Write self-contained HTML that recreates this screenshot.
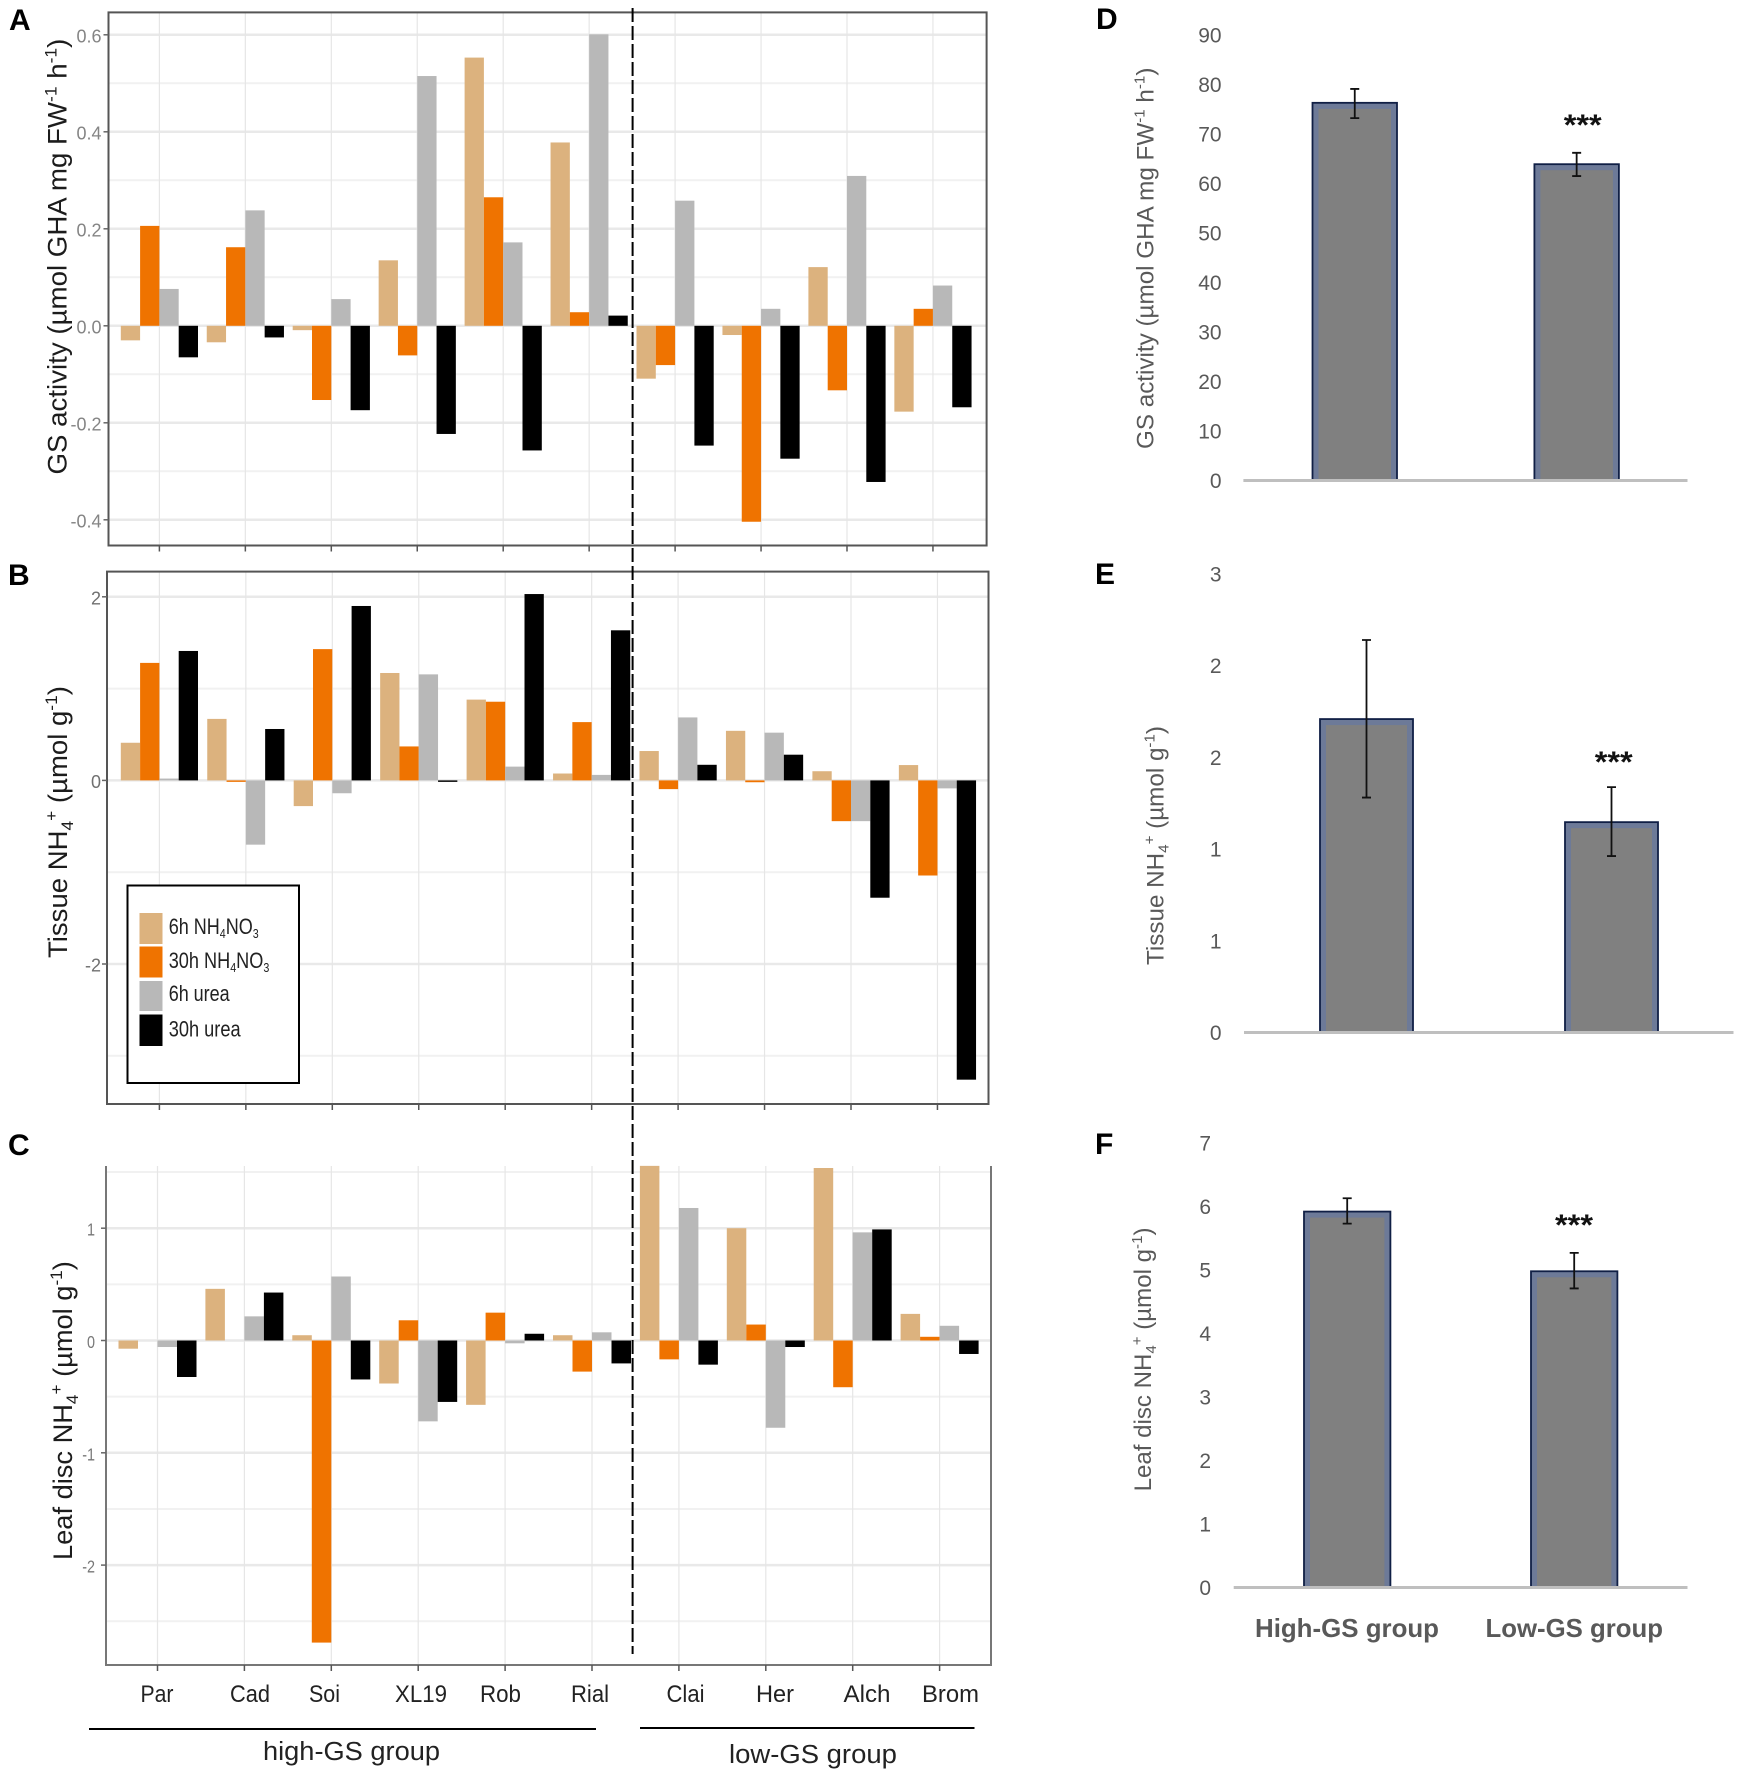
<!DOCTYPE html>
<html lang="en">
<head>
<meta charset="utf-8">
<title>GS activity and NH4+ panels</title>
<style>
html,body{margin:0;padding:0;background:#fff}
svg{display:block}
text{font-family:"Liberation Sans",sans-serif}
</style>
</head>
<body>
<svg id="figure" xmlns="http://www.w3.org/2000/svg" width="1737" height="1772" viewBox="0 0 1737 1772">
  <rect width="1737" height="1772" fill="#fff"/>
  <g id="pA"></g>
  <g id="pB"></g>
  <g id="pC"></g>
  <g id="pD"></g>
  <g id="pE"></g>
  <g id="pF"></g>

  <g font-weight="bold" font-size="30" fill="#000">
    <text x="9" y="30">A</text>
    <text x="8" y="585">B</text>
    <text x="8" y="1155">C</text>
    <text x="1096" y="29">D</text>
    <text x="1095" y="584">E</text>
    <text x="1095" y="1154">F</text>
  </g>

  <g font-size="27" fill="#1c1c1c">
    <text data-w="436" transform="translate(66.5,474.5) rotate(-90)">GS activity (µmol GHA mg FW<tspan font-size="17" dy="-10">-1</tspan><tspan dy="10"> h</tspan><tspan font-size="17" dy="-10">-1</tspan><tspan dy="10">)</tspan></text>
    <text data-w="272" transform="translate(67,958) rotate(-90)">Tissue NH<tspan font-size="17" dy="6">4</tspan><tspan font-size="17" dy="-16">+</tspan><tspan dy="10"> (µmol g</tspan><tspan font-size="17" dy="-10">-1</tspan><tspan dy="10">)</tspan></text>
    <text data-w="299" transform="translate(72,1560) rotate(-90)">Leaf disc NH<tspan font-size="17" dy="6">4</tspan><tspan font-size="17" dy="-16">+</tspan><tspan dy="10"> (µmol g</tspan><tspan font-size="17" dy="-10">-1</tspan><tspan dy="10">)</tspan></text>
  </g>
  <g font-size="24" fill="#595959">
    <text data-w="381.5" transform="translate(1153.5,449) rotate(-90)">GS activity (µmol GHA mg FW<tspan font-size="15" dy="-9">-1</tspan><tspan dy="9"> h</tspan><tspan font-size="15" dy="-9">-1</tspan><tspan dy="9">)</tspan></text>
    <text data-w="239" transform="translate(1163.5,965) rotate(-90)">Tissue NH<tspan font-size="15" dy="5">4</tspan><tspan font-size="15" dy="-14">+</tspan><tspan dy="9"> (µmol g</tspan><tspan font-size="15" dy="-9">-1</tspan><tspan dy="9">)</tspan></text>
    <text data-w="264" transform="translate(1151,1491.4) rotate(-90)">Leaf disc NH<tspan font-size="15" dy="5">4</tspan><tspan font-size="15" dy="-14">+</tspan><tspan dy="9"> (µmol g</tspan><tspan font-size="15" dy="-9">-1</tspan><tspan dy="9">)</tspan></text>
  </g>

  <g>
    <rect x="127.5" y="885.5" width="171.5" height="197.5" fill="#fff" stroke="#000" stroke-width="2"/>
    <rect x="139.5" y="913" width="23" height="31" fill="#dcb27e"/>
    <rect x="139.5" y="946.5" width="23" height="31" fill="#ef7300"/>
    <rect x="139.5" y="981" width="23" height="30" fill="#b8b8b8"/>
    <rect x="139.5" y="1014.5" width="23" height="31.5" fill="#000"/>
    <g font-size="22" fill="#222">
      <text data-w="90" transform="translate(168.7,934)">6h NH<tspan font-size="13" dy="4">4</tspan><tspan dy="-4">NO</tspan><tspan font-size="13" dy="4">3</tspan></text>
      <text data-w="100.7" transform="translate(168.7,968)">30h NH<tspan font-size="13" dy="4">4</tspan><tspan dy="-4">NO</tspan><tspan font-size="13" dy="4">3</tspan></text>
      <text data-w="61" transform="translate(168.7,1001)">6h urea</text>
      <text data-w="72" transform="translate(168.7,1036.5)">30h urea</text>
    </g>
  </g>

  <g font-size="24" fill="#222">
    <text data-w="33" transform="translate(140.5,1702)">Par</text>
    <text data-w="40" transform="translate(230,1702)">Cad</text>
    <text data-w="31" transform="translate(309,1702)">Soi</text>
    <text data-w="52" transform="translate(395,1702)">XL19</text>
    <text data-w="41" transform="translate(480,1702)">Rob</text>
    <text data-w="38" transform="translate(571,1702)">Rial</text>
    <text data-w="38" transform="translate(666.5,1702)">Clai</text>
    <text data-w="38" transform="translate(756,1702)">Her</text>
    <text data-w="47" transform="translate(843.5,1702)">Alch</text>
    <text data-w="57" transform="translate(922,1702)">Brom</text>
  </g>

  <g>
    <line x1="89" y1="1729" x2="596" y2="1729" stroke="#000" stroke-width="2"/>
    <line x1="640" y1="1728" x2="974.5" y2="1728" stroke="#000" stroke-width="2"/>
    <text font-size="26" fill="#222" data-w="177" transform="translate(263,1760)">high-GS group</text>
    <text font-size="26" fill="#222" data-w="168" transform="translate(729,1763)">low-GS group</text>
  </g>

  <g font-size="26" font-weight="bold" fill="#595959">
    <text data-w="184" transform="translate(1255,1636.8)">High-GS group</text>
    <text data-w="177.6" transform="translate(1485.5,1636.8)">Low-GS group</text>
  </g>

  <g font-size="30" font-weight="bold" fill="#111">
    <text data-w="38" transform="translate(1563.7,135)">***</text>
    <text data-w="38" transform="translate(1594.7,772)">***</text>
    <text data-w="38" transform="translate(1555,1235)">***</text>
  </g>

  <line x1="632.6" y1="8" x2="632.6" y2="1654" stroke="#000" stroke-width="2" stroke-dasharray="14 4"/>
</svg>

<script>
// Shared categories and series
const categories = ["Par","Cad","Soi","XL19","Rob","Rial","Clai","Her","Alch","Brom"];
const seriesNames = ["6h-nh4no3","30h-nh4no3","6h-urea","30h-urea"];
const seriesColors = ["#dcb27e","#ef7300","#b8b8b8","#000000"];

// Panel A: GS activity
const a6hNH4NO3  = [-0.03,-0.034,-0.009,0.135,0.553,0.378,-0.109,-0.019,0.121,-0.177];
const a30hNH4NO3 = [0.206,0.162,-0.153,-0.061,0.265,0.028,-0.081,-0.404,-0.133,0.035];
const a6hUrea    = [0.076,0.238,0.055,0.515,0.172,0.601,0.258,0.035,0.309,0.083];
const a30hUrea   = [-0.065,-0.024,-0.174,-0.223,-0.257,0.021,-0.247,-0.274,-0.322,-0.168];
const aTicks      = [0.6,0.4,0.2,0,-0.2,-0.4];
const aTickLabels = ["0.6","0.4","0.2","0.0","-0.2","-0.4"];
const aMinorTicks = [0.5,0.3,0.1,-0.1,-0.3];

// Panel B: Tissue NH4+
const b6hNH4NO3  = [0.41,0.67,-0.28,1.17,0.88,0.075,0.32,0.54,0.10,0.167];
const b30hNH4NO3 = [1.28,-0.016,1.43,0.37,0.857,0.635,-0.095,-0.02,-0.444,-1.036];
const b6hUrea    = [0.02,-0.70,-0.14,1.155,0.15,0.06,0.686,0.52,-0.444,-0.087];
const b30hUrea   = [1.41,0.56,1.90,-0.016,2.03,1.635,0.17,0.28,-1.278,-3.26];
const bTicks      = [2,0,-2];
const bTickLabels = ["2","0","-2"];
const bMinorTicks = [1,-1,-3];

// Panel C: Leaf disc NH4+
const c6hNH4NO3  = [-0.073,0.46,0.047,-0.383,-0.573,0.047,1.555,1.0,1.536,0.237];
const c30hNH4NO3 = [0,0,-2.69,0.18,0.248,-0.277,-0.168,0.142,-0.416,0.033];
const c6hUrea    = [-0.058,0.215,0.57,-0.72,-0.025,0.073,1.18,-0.777,0.963,0.131];
const c30hUrea   = [-0.325,0.427,-0.347,-0.547,0.06,-0.204,-0.215,-0.058,0.989,-0.12];
const cTicks      = [1,0,-1,-2];
const cTickLabels = ["1","0","-1","-2"];
const cMinorTicks = [1.5,0.5,-0.5,-1.5,-2.5];

// Panels D-F: group means with error bar limits
const summaryGroups = ["high-gs","low-gs"];
const dMeans = [76.3,63.9];
const dUpper = [79.1,66.2];
const dLower = [73.2,61.5];
const dTicks = [0,10,20,30,40,50,60,70,80,90];
const dTickLabels = ["0","10","20","30","40","50","60","70","80","90"];

const eMeans = [1.709,1.147];
const eUpper = [2.14,1.338];
const eLower = [1.281,0.962];
const eTicks = [0,0.5,1,1.5,2,2.5];
const eTickLabels = ["0","1","1","2","2","3"];

const fMeans = [5.92,4.98];
const fUpper = [6.13,5.27];
const fLower = [5.73,4.71];
const fTicks = [0,1,2,3,4,5,6,7];
const fTickLabels = ["0","1","2","3","4","5","6","7"];

const NS = "http://www.w3.org/2000/svg";
function mk(parent, tag, attrs) {
  const el = document.createElementNS(NS, tag);
  for (const k in attrs) el.setAttribute(k, attrs[k]);
  parent.appendChild(el);
  return el;
}
function linearY(zero, pxPerUnit) { return v => zero - v * pxPerUnit; }
function bandX(first, step) { return i => first + i * step; }

function drawGroupedPanel(id, cfg, series, ticks, tickLabels, minorTicks) {
  const g = document.getElementById(id);
  const y = linearY(cfg.zero, cfg.scale);
  const x = bandX(cfg.firstX, cfg.stepX);
  minorTicks.forEach(t => {
    const l = mk(g, "line", {x1: cfg.left, x2: cfg.right, y1: y(t), y2: y(t), stroke: "#f1f1f1", "stroke-width": 2});
    
    
  });
  ticks.forEach(t => {
    const l = mk(g, "line", {x1: cfg.left, x2: cfg.right, y1: y(t), y2: y(t), stroke: "#e9e9e9", "stroke-width": 2.5});
    
    
  });
  categories.forEach((c, i) => {
    const l = mk(g, "line", {x1: x(i), x2: x(i), y1: cfg.top, y2: cfg.bottom, stroke: "#e6e6e6", "stroke-width": 1.2});
    
    
  });
  series.forEach((vals, s) => {
    vals.forEach((v, i) => {
      const y0 = y(0), yv = y(v);
      const r = mk(g, "rect", {
        x: x(i) + (s - 2) * cfg.barW,
        y: Math.min(y0, yv),
        width: cfg.barW,
        height: Math.abs(yv - y0),
        fill: seriesColors[s]
      });
      
      
    });
  });
  if (cfg.frame) {
    const f = mk(g, "rect", {x: cfg.left, y: cfg.top, width: cfg.right - cfg.left, height: cfg.bottom - cfg.top, fill: "none", stroke: "#555", "stroke-width": 2});
    
    
  } else {
    const ax = mk(g, "path", {d: "M" + cfg.left + " " + cfg.top + "V" + cfg.bottom + "H" + cfg.right + "V" + cfg.top, fill: "none", stroke: "#777", "stroke-width": 2});
    
    
  }
  categories.forEach((c, i) => {
    const t = mk(g, "line", {x1: x(i), x2: x(i), y1: cfg.bottom, y2: cfg.bottom + 6, stroke: "#555", "stroke-width": 1.5});
    
    
  });
  ticks.forEach((t, i) => {
    const m = mk(g, "line", {x1: cfg.left - 5, x2: cfg.left, y1: y(t), y2: y(t), stroke: "#666", "stroke-width": 1.5});
    
    
    const lab = mk(g, "text", {
      "text-anchor": "end",
      "font-size": cfg.tickSize,
      fill: cfg.tickColor,
      transform: "translate(" + cfg.tickX + "," + (y(t) + cfg.tickSize * 0.36 + 1) + ") scale(" + cfg.tickSx + ",1)"
    });
    lab.textContent = tickLabels[i];
    
    
  });
}

function drawSummaryPanel(id, cfg, means, upper, lower, ticks, tickLabels) {
  const g = document.getElementById(id);
  const y = linearY(cfg.zero, cfg.scale);
  const x = bandX(cfg.firstX, cfg.stepX);
  means.forEach((m, i) => {
    const o = mk(g, "rect", {x: x(i) - cfg.barW / 2, y: y(m), width: cfg.barW, height: y(0) - y(m), fill: "#6d7a98", stroke: "#101f45", "stroke-width": 1.8});
    
    
    const n = mk(g, "rect", {x: x(i) - cfg.barW / 2 + 6, y: y(m) + 6, width: cfg.barW - 12, height: y(0) - y(m) - 7, fill: "#808080"});
    
    
    const e = mk(g, "path", {
      d: "M" + (x(i) - 4.5) + " " + y(upper[i]) + "h9M" + x(i) + " " + y(upper[i]) + "V" + y(lower[i]) + "M" + (x(i) - 4.5) + " " + y(lower[i]) + "h9",
      fill: "none", stroke: "#111", "stroke-width": 1.8
    });
    
    
  });
  const base = mk(g, "line", {x1: cfg.axisLeft, x2: cfg.axisRight, y1: y(0), y2: y(0), stroke: "#bfbfbf", "stroke-width": 3});
  
  
  ticks.forEach((t, i) => {
    const lab = mk(g, "text", {x: cfg.tickX, y: y(t) + 7.5, "text-anchor": "end", "font-size": 21, fill: "#595959"});
    lab.textContent = tickLabels[i];
    
    
  });
}

drawGroupedPanel("pA",
  {left:108.5,right:986.6,top:12.4,bottom:545.5,zero:325.8,scale:485,firstX:159.4,stepX:85.95,barW:19.3,frame:true,tickX:101.5,tickSize:18,tickSx:1,tickColor:"#858585"},
  [a6hNH4NO3,a30hNH4NO3,a6hUrea,a30hUrea], aTicks, aTickLabels, aMinorTicks);
drawGroupedPanel("pB",
  {left:107,right:988.5,top:571.6,bottom:1104,zero:780.4,scale:91.8,firstX:159.4,stepX:86.45,barW:19.3,frame:true,tickX:101,tickSize:18,tickSx:1,tickColor:"#707070"},
  [b6hNH4NO3,b30hNH4NO3,b6hUrea,b30hUrea], bTicks, bTickLabels, bMinorTicks);
drawGroupedPanel("pC",
  {left:106,right:991,top:1166,bottom:1665,zero:1340.5,scale:112.3,firstX:157.5,stepX:86.9,barW:19.5,frame:false,tickX:95,tickSize:18,tickSx:0.8,tickColor:"#777"},
  [c6hNH4NO3,c30hNH4NO3,c6hUrea,c30hUrea], cTicks, cTickLabels, cMinorTicks);

drawSummaryPanel("pD",
  {zero:480.5,scale:4.95,firstX:1354.75,stepX:221.9,barW:84.5,axisLeft:1243.4,axisRight:1687.5,tickX:1221.6},
  dMeans,dUpper,dLower,dTicks,dTickLabels);
drawSummaryPanel("pE",
  {zero:1032.5,scale:183.4,firstX:1366.5,stepX:245,barW:93,axisLeft:1244,axisRight:1733.5,tickX:1221.6},
  eMeans,eUpper,eLower,eTicks,eTickLabels);
drawSummaryPanel("pF",
  {zero:1587.5,scale:63.5,firstX:1347.2,stepX:227,barW:86.4,axisLeft:1233.7,axisRight:1687.5,tickX:1211},
  fMeans,fUpper,fLower,fTicks,fTickLabels);

// Fit text to the measured widths with horizontal scaling
document.querySelectorAll("text[data-w]").forEach(t => {
  const len = t.getComputedTextLength();
  const target = parseFloat(t.getAttribute("data-w"));
  if (len > 0) t.setAttribute("transform", t.getAttribute("transform") + " scale(" + (target / len).toFixed(4) + ",1)");
});
</script>
</body>
</html>
